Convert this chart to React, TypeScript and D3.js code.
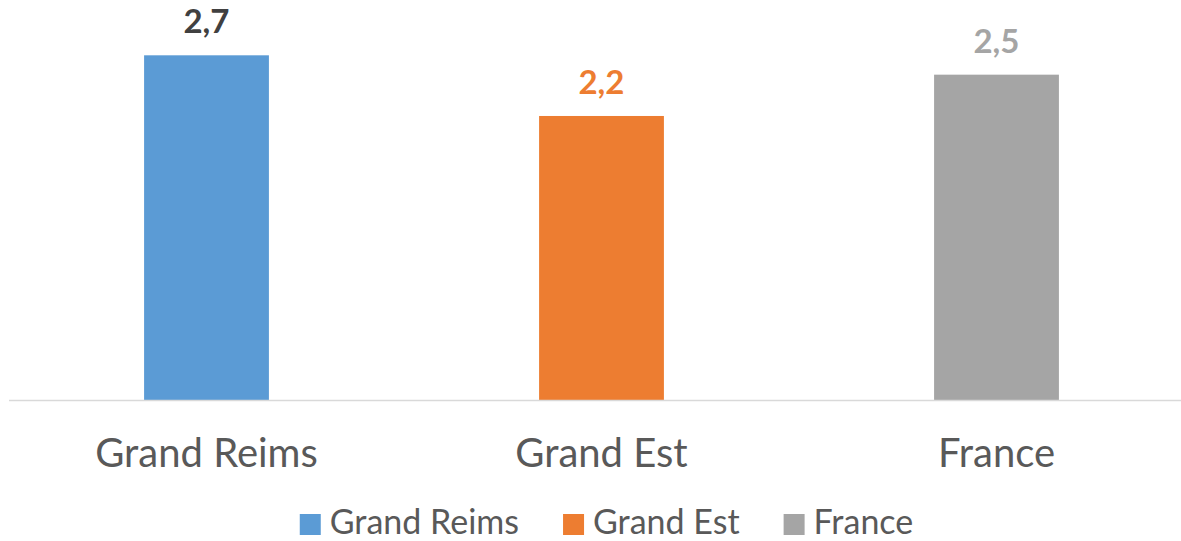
import React, { useEffect, useRef } from "react";
import * as d3 from "d3";

const categories = ["Grand Reims", "Grand Est", "France"];
const values = [2.67, 2.2, 2.52];
const barColors = ["#5B9BD5", "#ED7D31", "#A5A5A5"];
const labelColors = ["#404040", "#ED7D31", "#A5A5A5"];

const W = 1181;
const H = 541;
const FONT = "Lato, 'Open Sans', sans-serif";

export default function App() {
  const ref = useRef<SVGSVGElement>(null);

  useEffect(() => {
    const svg = d3.select(ref.current);
    svg.selectAll("*").remove();

    const x = d3
      .scaleBand<string>()
      .domain(categories)
      .range([9, 1194])
      .paddingInner(0.684)
      .paddingOuter(0.342);
    const y = d3.scaleLinear().domain([0, 3]).range([400, 400 - 3 * 129.1]);

    const data = categories.map((c, i) => ({ c, v: values[i], i }));

    svg
      .selectAll("rect.bar")
      .data(data)
      .join("rect")
      .attr("class", "bar")
      .attr("x", (d) => x(d.c)!)
      .attr("width", x.bandwidth())
      .attr("y", (d) => y(d.v))
      .attr("height", (d) => y(0) - y(d.v))
      .attr("fill", (d) => barColors[d.i]);

    svg
      .append("line")
      .attr("x1", 9)
      .attr("x2", W)
      .attr("y1", y(0) + 0.5)
      .attr("y2", y(0) + 0.5)
      .attr("stroke", "#D9D9D9")
      .attr("stroke-width", 1.5);

    const fmt = (v: number) => d3.format(".1f")(v).replace(".", ",");

    svg
      .selectAll("text.val")
      .data(data)
      .join("text")
      .attr("class", "val")
      .attr("x", (d) => x(d.c)! + x.bandwidth() / 2)
      .attr("y", (d) => y(d.v) - 22)
      .attr("text-anchor", "middle")
      .attr("font-family", FONT)
      .attr("font-weight", "bold")
      .attr("font-size", 33)
      .attr("fill", (d) => labelColors[d.i])
      .text((d) => fmt(d.v));

    svg
      .selectAll("text.cat")
      .data(data)
      .join("text")
      .attr("class", "cat")
      .attr("x", (d) => x(d.c)! + x.bandwidth() / 2)
      .attr("y", 467)
      .attr("text-anchor", "middle")
      .attr("font-family", FONT)
      .attr("font-size", 40)
      .attr("fill", "#595959")
      .text((d) => d.c);

    // legend
    const lg = svg.append("g");
    const items: { g: any; w: number }[] = [];
    data.forEach((d) => {
      const g = lg.append("g");
      g.append("rect")
        .attr("x", 0)
        .attr("y", 514)
        .attr("width", 21)
        .attr("height", 21)
        .attr("fill", barColors[d.i]);
      const t = g
        .append("text")
        .attr("x", 30)
        .attr("y", 534)
        .attr("font-family", FONT)
        .attr("font-size", 34)
        .attr("fill", "#595959")
        .text(d.c);
      const tw = (t.node() as SVGTextElement).getComputedTextLength();
      items.push({ g, w: 30 + tw });
    });
    const gap = 44;
    const total = items.reduce((s, it) => s + it.w, 0) + gap * (items.length - 1);
    let cx = 606.5 - total / 2;
    items.forEach((it) => {
      it.g.attr("transform", `translate(${cx},0)`);
      cx += it.w + gap;
    });
  }, []);

  return (
    <svg
      ref={ref}
      width={W}
      height={H}
      style={{ position: "absolute", left: 0, top: 0, background: "#fff" }}
    />
  );
}
